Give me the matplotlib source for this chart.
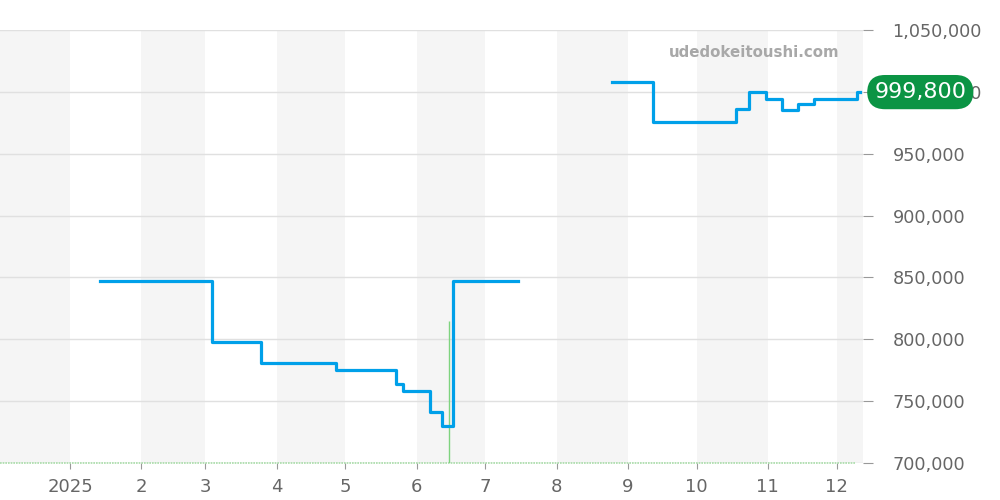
import numpy as np
import pandas as pd
import matplotlib
matplotlib.use('Agg')
import matplotlib.pyplot as plt
import matplotlib.dates as mdates
from matplotlib.ticker import FuncFormatter
from matplotlib.transforms import blended_transform_factory

# price history, change points (steps-post)
dates_a = ['2025-01-14', '2025-03-04', '2025-03-25', '2025-04-27', '2025-05-23',
           '2025-05-26', '2025-06-07', '2025-06-12', '2025-06-17', '2025-07-15']
prices_a = [847000, 798000, 781000, 775000, 764000,
            758000, 741000, 730000, 847000, 847000]

dates_b = ['2025-08-25', '2025-09-12', '2025-10-18', '2025-10-24', '2025-10-31',
           '2025-11-07', '2025-11-14', '2025-11-21', '2025-12-10', '2025-12-11']
prices_b = [1008000, 976000, 986000, 999800, 994000,
            985000, 990000, 994000, 999800, 999800]

spike_date = '2025-06-15'
spike_value = 815000

latest = 999800
y_ticks = [700000, 750000, 800000, 850000, 900000, 950000, 1000000, 1050000]
month_labels = ['2025', '2', '3', '4', '5', '6', '7', '8', '9', '10', '11', '12']

blue = '#00a0e9'
grey_txt = '#666666'

fig = plt.figure(figsize=(10, 5), dpi=100)
ax = fig.add_axes([0, 0.074, 0.8633, 0.866])

x0 = pd.Timestamp('2024-12-01 12:00')
x1 = pd.Timestamp('2025-12-12 14:00')

# alternating month bands
months = pd.date_range('2024-12-01', '2026-01-01', freq='MS')
for i in range(len(months) - 1):
    if i % 2 == 0:
        ax.axvspan(months[i], months[i + 1], color='#f5f5f5', lw=0, zorder=0)

for v in y_ticks:
    ax.axhline(v, color='#e0e0e0', lw=1, zorder=1)

# volume-ish marks
ax.plot([x0, pd.Timestamp('2025-12-09')], [700400, 700400], color='#a8dca8',
        lw=1.2, ls=(0, (1, 0.6)), zorder=2, clip_on=False)
ax.vlines(pd.Timestamp(spike_date), 700000, spike_value, color='#7fd37f', lw=1, zorder=2)

ax.plot(pd.to_datetime(dates_a), prices_a, drawstyle='steps-post', color=blue, lw=2.3, zorder=3)
ax.plot(pd.to_datetime(dates_b), prices_b, drawstyle='steps-post', color=blue, lw=2.3, zorder=3)

ax.set_xlim(x0, x1)
ax.set_ylim(700000, 1050000)

for s in ax.spines.values():
    s.set_visible(False)

ax.yaxis.tick_right()
ax.set_yticks(y_ticks)
ax.yaxis.set_major_formatter(FuncFormatter(lambda v, p: f'{int(v):,}'))
ax.tick_params(axis='y', length=7, color='#999999', labelsize=12.7, labelcolor=grey_txt, pad=14)

ax.set_xticks(pd.date_range('2025-01-01', '2025-12-01', freq='MS'))
ax.set_xticklabels(month_labels)
ax.tick_params(axis='x', length=4, color='#999999', labelsize=13, labelcolor=grey_txt, pad=7)

ax.text(0.775, 0.949, 'udedokeitoushi.com', transform=ax.transAxes, color='#a8a8a8',
        fontsize=10.8, fontweight='bold', ha='left', va='center')

tr = blended_transform_factory(ax.transAxes, ax.transData)
ax.text(1.066, latest, f'{latest:,}', transform=tr, color='white', fontsize=16,
        ha='center', va='center', clip_on=False, zorder=10,
        bbox=dict(boxstyle='round,pad=0.32,rounding_size=0.8', fc='#0b9444', ec='none'))

fig.savefig('out.png', dpi=100)
